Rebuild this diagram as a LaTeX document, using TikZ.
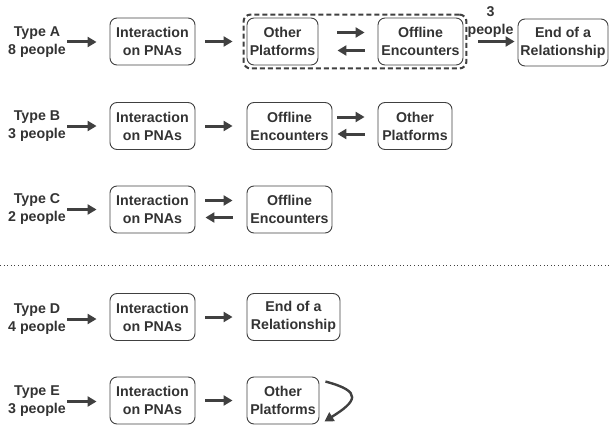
\documentclass[tikz,border=0pt]{standalone}
\usepackage{fontspec}
\setmainfont{Liberation Sans}
\usetikzlibrary{arrows.meta,fit}
\definecolor{ink}{HTML}{333333}
\definecolor{line}{HTML}{404040}
\tikzset{
  box/.style={draw=line, line width=0.9pt, rounded corners=7pt, minimum height=47pt,
    inner sep=1pt, align=center, text=ink, font=\fontsize{14.2}{18}\selectfont\bfseries},
  lbl/.style={align=center, inner sep=0pt, text=ink, font=\fontsize{14.2}{18}\selectfont\bfseries},
  arr/.style={draw=line, line width=3pt, -{Triangle[length=9pt,width=10pt]}},
}
\begin{document}
\begin{tikzpicture}[x=1pt,y=-1pt]
\useasboundingbox (0,0) rectangle (609,425);
% Row A
\node[lbl] (tA) at (37,42) {Type A\\8 people};
\node[box, minimum width=85pt] (iA) at (152.5,41.5) {Interaction\\on PNAs};
\node[box, minimum width=71pt] (oA) at (282.5,41.5) {Other\\Platforms};
\node[box, minimum width=85pt] (fA) at (420.5,41.5) {Offline\\Encounters};
\node[box, minimum width=90pt] (eA) at (563,42.5) {End of a\\Relationship};
\node[draw=line, line width=2pt, dash pattern=on 5pt off 3pt, rounded corners=7pt, fit=(oA)(fA), inner sep=3pt] (dA) {};
\draw[arr, shorten <=1pt, shorten >=13pt] (tA.east) -- (tA.east -| iA.west);
\draw[arr, shorten <=10pt, shorten >=14pt] (iA.east) -- (oA.west);
\draw[arr, shorten <=19pt, shorten >=13pt] ([yshift=9pt]oA.east) -- ([yshift=9pt]fA.west);
\draw[arr, shorten <=13pt, shorten >=19pt] ([yshift=-9pt]fA.west) -- ([yshift=-9pt]oA.east);
\draw[arr, shorten <=11pt, shorten >=3pt] (dA.east) -- (dA.east -| eA.west) node[midway, lbl, above=3pt, xshift=-2pt] (pA) {3\\people};
% Row B
\node[lbl] (tB) at (37,126) {Type B\\3 people};
\node[box, minimum width=85pt] (iB) at (152.5,126) {Interaction\\on PNAs};
\node[box, minimum width=85pt] (fB) at (289.5,126) {Offline\\Encounters};
\node[box, minimum width=74pt] (oB) at (415,126) {Other\\Platforms};
\draw[arr, shorten <=1pt, shorten >=13pt] (tB.east) -- (tB.east -| iB.west);
\draw[arr, shorten <=10pt, shorten >=14pt] (iB.east) -- (fB.west);
\draw[arr, shorten <=5pt, shorten >=13pt] ([yshift=9pt]fB.east) -- ([yshift=9pt]oB.west);
\draw[arr, shorten <=13pt, shorten >=5pt] ([yshift=-8pt]oB.west) -- ([yshift=-8pt]fB.east);
% Row C
\node[lbl] (tC) at (37,209.5) {Type C\\2 people};
\node[box, minimum width=85pt] (iC) at (152.5,209.5) {Interaction\\on PNAs};
\node[box, minimum width=85pt] (fC) at (289.5,209.5) {Offline\\Encounters};
\draw[arr, shorten <=1pt, shorten >=13pt] (tC.east) -- (tC.east -| iC.west);
\draw[arr, shorten <=10pt, shorten >=14pt] ([yshift=9pt]iC.east) -- ([yshift=9pt]fC.west);
\draw[arr, shorten <=14pt, shorten >=10pt] ([yshift=-8pt]fC.west) -- ([yshift=-8pt]iC.east);
% Separator
\draw[line, line width=0.9pt, dash pattern=on 0.9pt off 2.7pt] (0,265) -- (609,265);
% Row D
\node[lbl] (tD) at (37,319) {Type D\\4 people};
\node[box, minimum width=85pt] (iD) at (152.5,317) {Interaction\\on PNAs};
\node[box, minimum width=93pt] (eD) at (293.5,317) {End of a\\Relationship};
\draw[arr, shorten <=1pt, shorten >=13pt] (tD.east) -- (tD.east -| iD.west);
\draw[arr, shorten <=10pt, shorten >=14pt] (iD.east) -- (eD.west);
% Row E
\node[lbl] (tE) at (37,401.5) {Type E\\3 people};
\node[box, minimum width=85pt] (iE) at (152.5,400.5) {Interaction\\on PNAs};
\node[box, minimum width=72pt] (oE) at (283,400.5) {Other\\Platforms};
\draw[arr, shorten <=1pt, shorten >=13pt] (tE.east) -- (tE.east -| iE.west);
\draw[arr, shorten <=10pt, shorten >=14pt] (iE.east) -- (oE.west);
\coordinate (cs) at ([xshift=6pt,yshift=-5pt]oE.north east);
\coordinate (ce) at ([xshift=5pt,yshift=3pt]oE.south east);
\draw[draw=line, line width=2.4pt, -{Triangle[length=9pt,width=10pt]}] (cs) .. controls +(38,10) and +(32,-20) .. (ce);
\end{tikzpicture}
\end{document}
